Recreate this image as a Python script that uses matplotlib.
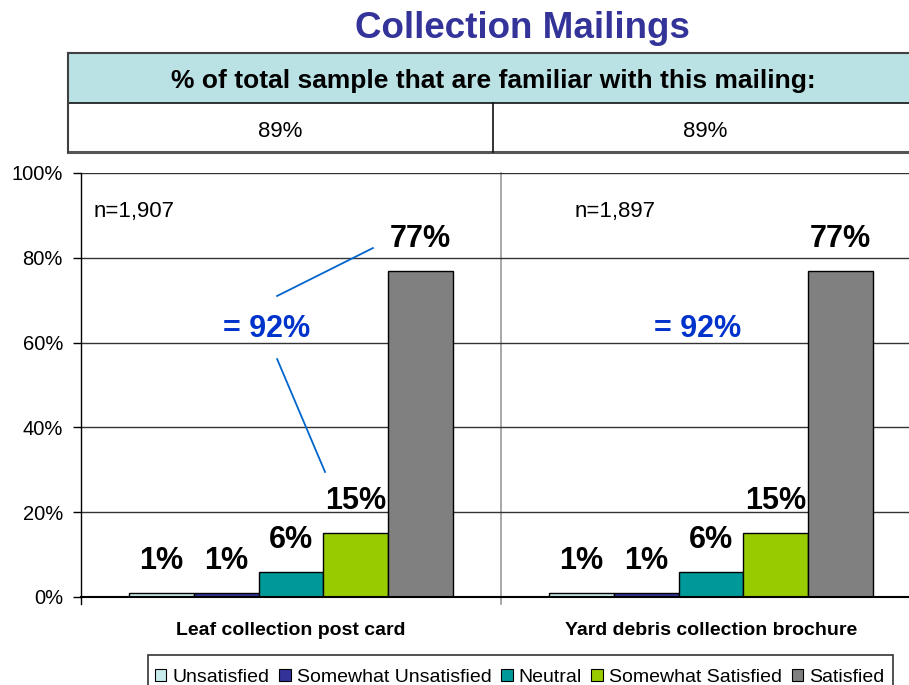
import matplotlib.pyplot as plt
from matplotlib.patches import Patch, Rectangle

plt.rcParams['font.family'] = ['Liberation Sans', 'DejaVu Sans']

# survey data
mailings = ['Leaf collection post card', 'Yard debris collection brochure']
sample_sizes = ['n=1,907', 'n=1,897']
familiar_pct = ['89%', '89%']
ratings = ['Unsatisfied', 'Somewhat Unsatisfied', 'Neutral', 'Somewhat Satisfied', 'Satisfied']
leaf_values = [1, 1, 6, 15, 77]
yard_values = [1, 1, 6, 15, 77]
satisfied_total = ['= 92%', '= 92%']

colors = ['#C8ECEC', '#333399', '#009999', '#99CC00', '#808080']

W, H = 909, 685
fig = plt.figure(figsize=(W / 100, H / 100), dpi=100)


def fx(px):
    return px / W


def fy(py):
    return 1 - py / H


# title
fig.text(fx(522), fy(38), 'Collection Mailings', ha='center', va='baseline',
         fontsize=26.5, fontweight='bold', color='#333399')

# familiarity table on top
tab = fig.add_axes([fx(68), fy(152), fx(918) - fx(68), fy(53) - fy(152)])
tab.set_xlim(0, 1)
tab.set_ylim(0, 1)
tab.axis('off')
split = (103 - 53) / (152 - 53)
tab.add_patch(Rectangle((0, 1 - split), 1, split, facecolor='#BAE1E4',
                        edgecolor='none'))
tab.plot([0, 1], [1, 1], color='#404040', lw=1.5, clip_on=False)
tab.plot([0, 1], [1 - split, 1 - split], color='#111111', lw=1.2, clip_on=False)
tab.plot([0, 1], [0, 0], color='#555555', lw=2.2, clip_on=False)
tab.plot([0, 0], [0, 1], color='#404040', lw=1.5, clip_on=False)
tab.plot([0.5, 0.5], [0, 1 - split], color='#111111', lw=1.2, clip_on=False)
tab.text(0.5, 1 - split + 0.15, '% of total sample that are familiar with this mailing:',
         ha='center', va='baseline', fontsize=19, fontweight='bold')
for i, txt in enumerate(familiar_pct):
    tab.text(0.25 + 0.5 * i, 0.15, txt, ha='center', va='baseline', fontsize=16)

# main bar chart
ax = fig.add_axes([fx(81), fy(597), fx(921) - fx(81), fy(173) - fy(597)])
n = len(ratings)
bw = 0.1543
groups = [leaf_values, yard_values]
for j, name in enumerate(ratings):
    xs = [g + (j - (n - 1) / 2) * bw for g in range(len(groups))]
    vals = [grp[j] for grp in groups]
    ax.bar(xs, vals, width=bw, color=colors[j], edgecolor='black', lw=1.0,
           label=name, zorder=3)
    for x, v in zip(xs, vals):
        ax.annotate(f'{v}%', (x, v), xytext=(0, 23), textcoords='offset points',
                    ha='center', va='center', fontsize=22, fontweight='bold',
                    zorder=4)

ax.set_xlim(-0.5, 1.5)
ax.set_ylim(0, 100)
ax.set_yticks(range(0, 101, 20))
ax.set_yticklabels([f'{t}%' for t in range(0, 101, 20)], fontsize=14.5)
ax.tick_params(axis='y', direction='out', length=6, width=1, pad=7)
ax.set_xticks([])
ax.grid(axis='y', color='#333333', lw=1.0, zorder=0)
for side in ['top', 'right']:
    ax.spines[side].set_visible(False)
ax.spines['left'].set_linewidth(1.0)
ax.spines['bottom'].set_linewidth(1.5)
ax.spines['bottom'].set_zorder(5)

# category separators with small outward ticks
ax.plot([-0.5, -0.5], [-1.7, 0], color='black', lw=1.0, clip_on=False)
ax.plot([0.5, 0.5], [-1.7, 100], color='#999999', lw=1.2, clip_on=False, zorder=1)

# category names below the axis
for i, name in enumerate(mailings):
    ax.text(i, -7.8, name, ha='center', va='center', fontsize=14,
            fontweight='bold')

# sample sizes and combined satisfaction
n_pos = [-0.469, 0.674]
for i, txt in enumerate(sample_sizes):
    ax.text(n_pos[i], 89.6, txt, ha='left', va='baseline', fontsize=16)
total_pos = [-0.057, 0.968]
for i, txt in enumerate(satisfied_total):
    ax.text(total_pos[i], 61.3, txt, ha='center', va='baseline', fontsize=22,
            fontweight='bold', color='#0033CC')

# connector lines from the total to the two satisfied bars
ax.plot([-0.033, 0.195], [71.0, 82.3], color='#0066CC', lw=1.3, zorder=4)
ax.plot([-0.033, 0.081], [56.1, 29.5], color='#0066CC', lw=1.3, zorder=4)

# legend: entries without frame, box drawn separately so it runs off the bottom
handles = [Patch(facecolor=c, edgecolor='black', lw=0.8) for c in colors]
fig.legend(handles, ratings, loc='upper left', ncol=5,
           bbox_to_anchor=(fx(148), fy(662)), fontsize=14,
           frameon=False, handlelength=0.6, handleheight=0.6,
           handletextpad=0.3, columnspacing=0.5, borderpad=0.35,
           borderaxespad=0)
fig.patches.append(Rectangle((fx(148), fy(700)), fx(893) - fx(148),
                             fy(655) - fy(700), transform=fig.transFigure,
                             fill=False, edgecolor='#333333', lw=1.2))

fig.savefig('out.png', dpi=100)
